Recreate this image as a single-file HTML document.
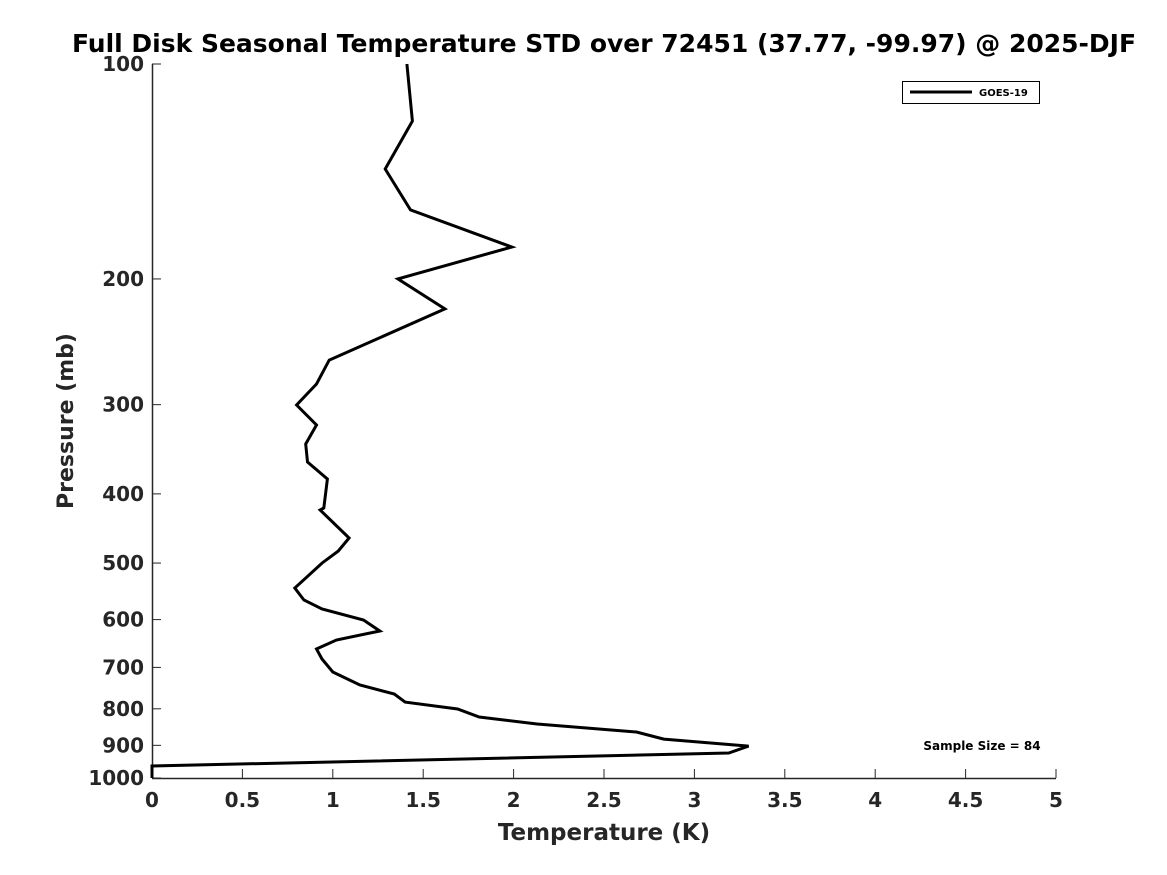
<!DOCTYPE html>
<html><head><meta charset="utf-8"><style>
body{margin:0;background:#fff;}
svg{display:block;font-family:"DejaVu Sans","Liberation Sans",sans-serif;}
</style></head><body>
<svg id="chart" width="1167" height="875" viewBox="0 0 1167 875" xmlns="http://www.w3.org/2000/svg">
<rect width="1167" height="875" fill="#fff"/>
<text x="604" y="52" text-anchor="middle" font-size="25" font-weight="bold" fill="#000">Full Disk Seasonal Temperature STD over 72451 (37.77, -99.97) @ 2025-DJF</text>
<g id="axes"></g>
<path id="series" fill="none" stroke="#000" stroke-width="3" stroke-linejoin="miter"/>
<g>
<rect x="902.5" y="81.5" width="137" height="22" fill="#fff" stroke="#000" stroke-width="1"/>
<line x1="910" y1="92" x2="972" y2="92" stroke="#000" stroke-width="3"/>
<text x="979" y="96" font-size="10" font-weight="bold" fill="#000">GOES-19</text>
</g>
<text x="982" y="750" text-anchor="middle" font-size="12" font-weight="bold" fill="#000">Sample Size = 84</text>
<text x="604" y="840" text-anchor="middle" font-size="23" font-weight="bold" fill="#262626">Temperature (K)</text>
<text transform="translate(73,421) rotate(-90)" text-anchor="middle" font-size="22" font-weight="bold" fill="#262626">Pressure (mb)</text>
</svg>
<script>
const xTicks = [0,0.5,1,1.5,2,2.5,3,3.5,4,4.5,5];
const xTickLabels = ["0","0.5","1","1.5","2","2.5","3","3.5","4","4.5","5"];
const yTicks = [100,200,300,400,500,600,700,800,900,1000];
const yTickLabels = ["100","200","300","400","500","600","700","800","900","1000"];
const pressure = [100,120.2,140.3,160.1,180.4,200,220.3,259.8,280.7,300.3,320.3,340.6,360.9,381.3,418.7,421.4,461.2,481,500,541.9,563.2,579.8,600.7,622.4,640.7,659.6,681.3,710.5,740.9,762.8,782.8,800.6,821.5,840.3,862.2,882,902.1,922.6,962,1000];
const tempStd = [1.41,1.44,1.29,1.43,1.99,1.36,1.62,0.98,0.91,0.80,0.91,0.85,0.86,0.97,0.95,0.93,1.09,1.03,0.94,0.79,0.84,0.94,1.17,1.26,1.02,0.91,0.94,1.00,1.15,1.34,1.40,1.69,1.81,2.13,2.68,2.83,3.30,3.19,0.00,0.00];

const X0=152,X1=1056,Y0=64,Y1=778;
const xScale=v=>X0+(v-0)/(5-0)*(X1-X0);
const yScale=p=>Y0+(Math.log10(p)-2)/(3-2)*(Y1-Y0);
const NS="http://www.w3.org/2000/svg";
const axes=document.getElementById('axes');
function mk(tag,attrs){const e=document.createElementNS(NS,tag);for(const k in attrs)e.setAttribute(k,attrs[k]);return e;}

const xl=mk('line',{x1:X0,y1:Y1+0.5,x2:X1,y2:Y1+0.5,stroke:'#262626','stroke-width':1.5});


axes.appendChild(xl);
const yl=mk('line',{x1:X0+0.5,y1:Y0,x2:X0+0.5,y2:Y1,stroke:'#262626','stroke-width':1.5});


axes.appendChild(yl);

xTicks.forEach((v,i)=>{
  const x=xScale(v);
  const t=mk('line',{x1:x,y1:Y1,x2:x,y2:Y1-9,stroke:'#262626','stroke-width':1});
  
  
  axes.appendChild(t);
  const l=mk('text',{x:x,y:Y1+29,'text-anchor':'middle','font-size':20,'font-weight':'bold',fill:'#262626'});
  
  
  l.textContent=xTickLabels[i];
  axes.appendChild(l);
});
yTicks.forEach((p,i)=>{
  const y=yScale(p);
  const t=mk('line',{x1:X0,y1:y,x2:X0+9,y2:y,stroke:'#262626','stroke-width':1});
  
  
  axes.appendChild(t);
  const l=mk('text',{x:X0-8,y:y+7,'text-anchor':'end','font-size':20,'font-weight':'bold',fill:'#262626'});
  
  
  l.textContent=yTickLabels[i];
  axes.appendChild(l);
});

let d='';
pressure.forEach((p,i)=>{d+=(i?'L':'M')+xScale(tempStd[i]).toFixed(1)+','+yScale(p).toFixed(1);});
document.getElementById('series').setAttribute('d',d);
</script>
</body></html>
